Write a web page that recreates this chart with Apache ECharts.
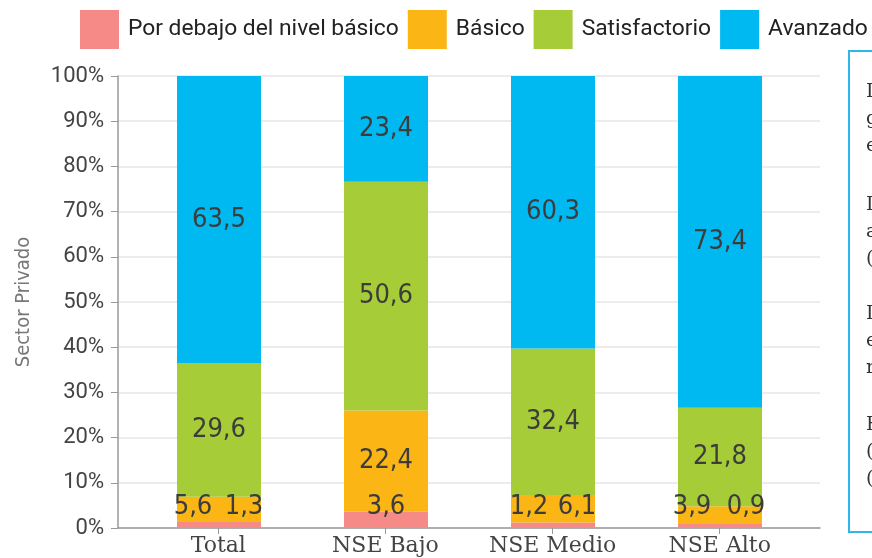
<!DOCTYPE html>
<html>
<head>
<meta charset="utf-8">
<script src="https://cdn.jsdelivr.net/npm/echarts@6.0.0/dist/echarts.min.js"></script>
<style>
  html, body { margin: 0; padding: 0; background: #fff; }
</style>
</head>
<body>
<div id="main" style="width: 872px;height:558px;"></div>
<script>
  var categories = ['Total', 'NSE Bajo', 'NSE Medio', 'NSE Alto'];
  var seriesNames = ['Por debajo del nivel básico', 'Básico', 'Satisfactorio', 'Avanzado'];
  var porDebajo = [1.3, 3.6, 1.2, 0.9];
  var basico = [5.6, 22.4, 6.1, 3.9];
  var satisfactorio = [29.6, 50.6, 32.4, 21.8];
  var avanzado = [63.5, 23.4, 60.3, 73.4];
  var yTicks = [0, 10, 20, 30, 40, 50, 60, 70, 80, 90, 100];
  var yAxisName = 'Sector Privado';

  // texto del recuadro de la derecha (queda cortado por el borde)
  var boxParagraphs = [
    ['La mayoría de los estudiantes', 'globalmente se ubica', 'en el nivel Avanzado.'],
    ['La proporción en Satisfactorio', 'aumenta en el NSE Bajo', '(50,6 %).'],
    ['Los estudiantes del NSE Medio', 'en su mayoría alcanzan', 'resultados avanzados.'],
    ['En el NSE Alto predomina', '(73,4 %) el nivel Avanzado', '(frente a 0,9 %).']
  ];

  var colors = ['#F68A86', '#FBB616', '#A6CC38', '#00B9F1'];
  var condensed = '"Liberation Sans Narrow", "DejaVu Sans Condensed", sans-serif';

  // desplazamientos de las etiquetas pequeñas (px)
  var labelOffsets = [
    [[25, -18], [0, -13], [-24, -18], [26, -19]],
    [[-26, -2], [0, 0], [24, -2], [-28, -8]],
    null,
    null
  ];

  var fmt = function (v) {
    return v.toFixed(1).replace('.', ',');
  };

  var makeSeries = function (idx, values) {
    return {
      type: 'bar',
      name: seriesNames[idx],
      stack: 'total',
      xAxisIndex: 1,
      yAxisIndex: 1,
      barWidth: 84,
      itemStyle: { color: colors[idx] },
      label: {
        show: true,
        position: 'inside',
        fontFamily: condensed,
        fontSize: 27,
        color: '#3c3c3c',
        formatter: function (p) { return fmt(p.value); }
      },
      data: values.map(function (v, i) {
        var item = { value: v };
        if (labelOffsets[idx]) {
          item.label = { offset: labelOffsets[idx][i] };
        }
        return item;
      })
    };
  };

  var graphics = [{
    type: 'rect',
    shape: { x: 849, y: 51, width: 60, height: 481 },
    style: { fill: '#fff', stroke: '#2DB7EA', lineWidth: 2 }
  }];
  var paraTops = [92, 205, 314, 425];
  boxParagraphs.forEach(function (lines, p) {
    lines.forEach(function (t, l) {
      graphics.push({
        type: 'text',
        x: 866,
        y: paraTops[p] + l * 27,
        style: {
          text: t,
          fontFamily: '"DejaVu Serif", serif',
          fontSize: 19,
          fill: '#333',
          verticalAlign: 'middle'
        }
      });
    });
  });

  var myChart = echarts.init(document.getElementById('main'));
  var option = {
    animation: false,
    textStyle: { fontFamily: 'Roboto, sans-serif' },
    legend: {
      left: 80,
      top: 10,
      width: 1000,
      padding: 0,
      itemWidth: 39,
      itemHeight: 39,
      itemGap: 9,
      icon: 'rect',
      textStyle: {
        fontSize: 22.8,
        color: '#222',
        padding: [0, 0, 0, 4]
      },
      data: seriesNames
    },
    // grid 0: ejes, líneas y rótulos; grid 1: barras
    grid: [
      { left: 118, right: 52, top: 76, bottom: 30, outerBoundsMode: 'none', containLabel: false },
      { left: 135.5, right: 68.5, top: 76, bottom: 30, outerBoundsMode: 'none', containLabel: false }
    ],
    xAxis: [{
      gridIndex: 0,
      type: 'value',
      min: -0.6,
      max: 3.6,
      splitLine: { show: false },
      axisLine: { show: true, onZero: false, lineStyle: { color: '#999', width: 1.5 } },
      axisTick: {
        show: true,
        length: 6,
        customValues: [0, 1, 2, 3],
        lineStyle: { color: '#999' }
      },
      axisLabel: {
        customValues: [0, 1, 2, 3],
        margin: 7,
        fontFamily: '"DejaVu Serif", serif',
        fontSize: 22,
        color: '#444',
        formatter: function (v) { return categories[Math.round(v)]; }
      }
    }, {
      gridIndex: 1,
      type: 'category',
      data: categories,
      show: false
    }],
    yAxis: [{
      gridIndex: 0,
      type: 'value',
      min: yTicks[0],
      max: yTicks[yTicks.length - 1],
      interval: 10,
      name: yAxisName,
      nameLocation: 'middle',
      nameGap: 84,
      nameTextStyle: {
        fontFamily: condensed,
        fontSize: 20,
        color: '#777'
      },
      axisLine: { show: true, onZero: false, lineStyle: { color: '#999', width: 1.5 } },
      axisTick: { show: true, length: 7, lineStyle: { color: '#999' } },
      axisLabel: {
        margin: 14,
        fontSize: 22,
        color: '#444',
        formatter: '{value}%'
      },
      splitLine: { lineStyle: { color: '#e6e6e6', width: 1.5 } }
    }, {
      gridIndex: 1,
      type: 'value',
      min: yTicks[0],
      max: yTicks[yTicks.length - 1],
      show: false,
      splitLine: { show: false }
    }],
    graphic: graphics,
    series: [
      makeSeries(0, porDebajo),
      makeSeries(1, basico),
      makeSeries(2, satisfactorio),
      makeSeries(3, avanzado)
    ]
  };

  myChart.setOption(option);
</script>
</body>
</html>
